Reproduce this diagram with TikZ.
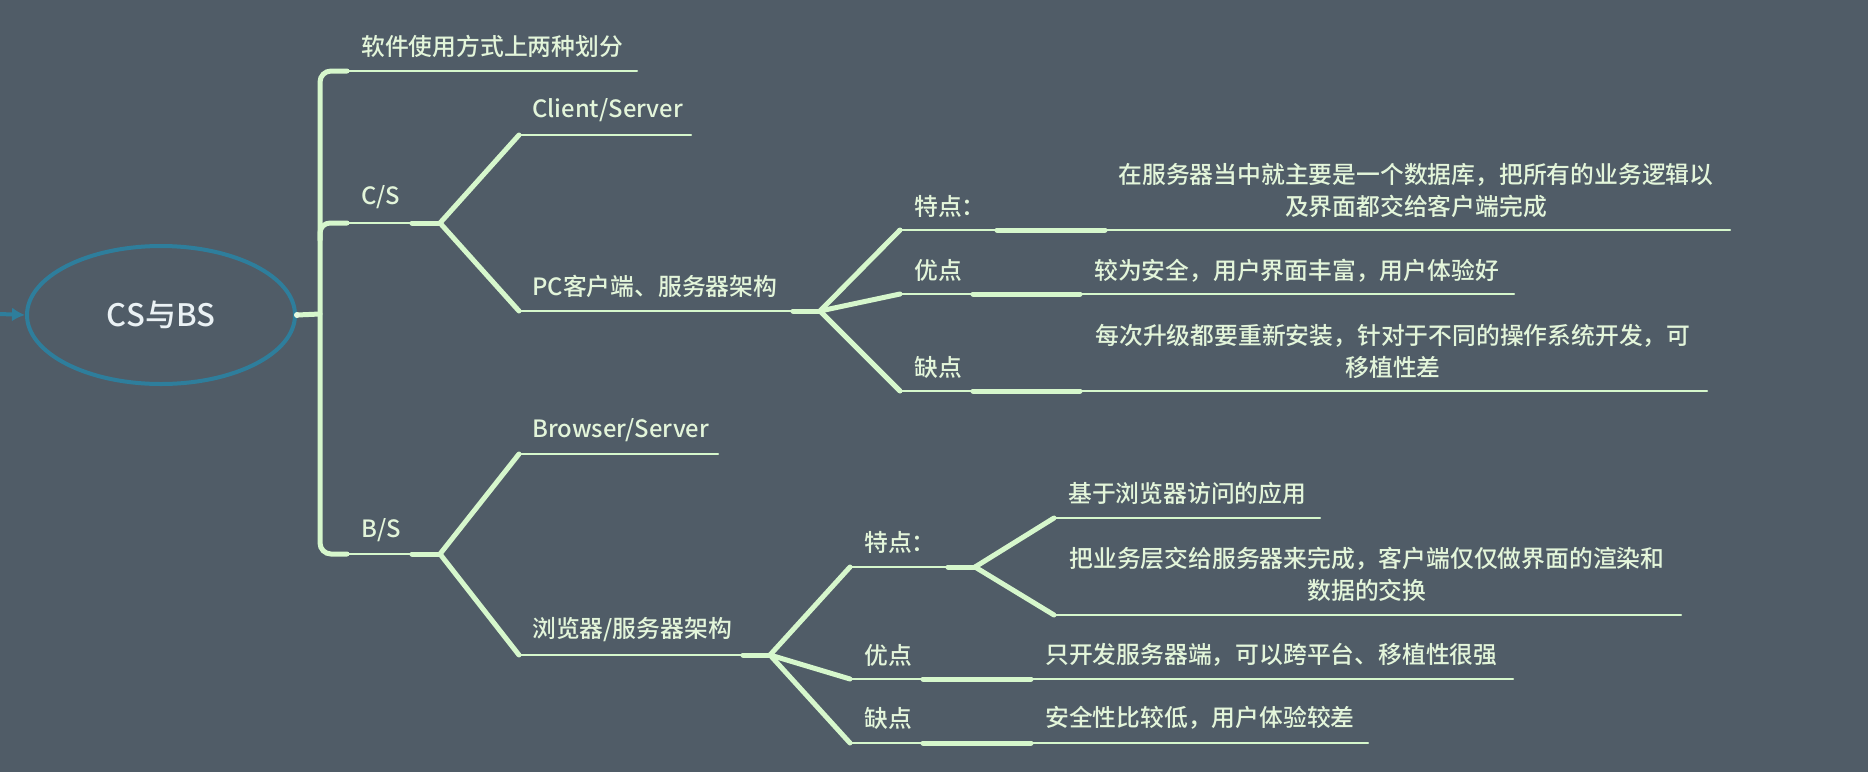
\documentclass[tikz,border=0pt]{standalone}
\usepackage{fontspec}
\setmainfont{Noto Sans CJK SC}[UprightFont={* Medium}]
\usetikzlibrary{arrows.meta,shapes.geometric}
\definecolor{bgc}{HTML}{505C67}
\definecolor{lnc}{HTML}{D6F7CC}
\definecolor{txc}{HTML}{E3F5DA}
\definecolor{rootc}{HTML}{2E7E9C}
\definecolor{roottx}{HTML}{EAF1F4}
\begin{document}
\begin{tikzpicture}[x=1pt,y=-1pt,
  uline/.style={draw=lnc, line width=2pt, line cap=round},
  conn/.style={draw=lnc, line width=5pt, line cap=round},
  lbl/.style={text=txc, font=\fontsize{23.8}{32}\selectfont, inner sep=0pt, anchor=west},
  ctr/.style={text=txc, font=\fontsize{23.8}{32}\selectfont, inner sep=0pt, align=center},
  rootnode/.style={draw=rootc, line width=4pt, ellipse, minimum width=268pt, minimum height=138pt, text=roottx, font=\fontsize{31}{36}\selectfont, inner sep=0pt}
]
\useasboundingbox (0,0) rectangle (1868,772);
\fill[bgc] (0,0) rectangle (1868,772);

% root
\node[rootnode] (root) at (161,315) {CS与BS};
\coordinate (ain) at (0,314);
\draw[rootc, line width=4pt, -{Latex[length=13pt,width=14pt]}] (ain) -- (root.west);
\coordinate (v0) at (320,314);
\draw[conn] (root.east) -- (v0);
\fill[lnc!60!white] (root.east) circle (3pt);

% spine
\coordinate (topa) at (347,71);
\coordinate (bota) at (347,554);
\draw[conn, rounded corners=11pt] (topa) -- (320,71) -- (320,554) -- (bota);

% top branch
\coordinate (tope) at (637,71);
\draw[uline] (topa) -- (tope);
\node[lbl] (ttop) at (361,46) {软件使用方式上两种划分};

% C/S
\coordinate (csa) at (347,223);
\coordinate (csb) at (412,223);
\coordinate (csf) at (440,223);
\draw[conn, rounded corners=10pt] (320,240) -- (320,223) -- (csa);
\draw[uline] (csa) -- (csb);
\draw[conn] (csb) -- (csf);
\node[lbl] (tcs) at (361,197) {C/S};

\coordinate (cla) at (519,135);
\coordinate (cle) at (691,135);
\draw[conn] (csf) -- (cla);
\draw[uline] (cla) -- (cle);
\node[lbl] (tcl) at (532,110) {Client/Server};

\coordinate (pca) at (519,311);
\coordinate (pcb) at (793,311);
\coordinate (pcf) at (820,311);
\draw[conn] (csf) -- (pca);
\draw[uline] (pca) -- (pcb);
\draw[conn] (pcb) -- (pcf);
\node[lbl] (tpc) at (532,286) {PC客户端、服务器架构};

% C/S features
\coordinate (c1a) at (900,230);
\coordinate (c1b) at (997,230);
\coordinate (c1c) at (1105,230);
\coordinate (c1e) at (1730,230);
\draw[conn] (pcf) -- (c1a);
\draw[uline] (c1a) -- (c1b);
\draw[conn] (c1b) -- (c1c);
\draw[uline] (c1c) -- (c1e);
\node[lbl] (tc1) at (914,206) {特点：};
\node[ctr] (tc1t) at (1416,191) {在服务器当中就主要是一个数据库，把所有的业务逻辑以\\及界面都交给客户端完成};

\coordinate (c2a) at (900,294);
\coordinate (c2b) at (973,294);
\coordinate (c2c) at (1080,294);
\coordinate (c2e) at (1514,294);
\draw[conn] (pcf) -- (c2a);
\draw[uline] (c2a) -- (c2b);
\draw[conn] (c2b) -- (c2c);
\draw[uline] (c2c) -- (c2e);
\node[lbl] (tc2) at (914,270) {优点};
\node[lbl] (tc2t) at (1094,271) {较为安全，用户界面丰富，用户体验好};

\coordinate (c3a) at (900,391);
\coordinate (c3b) at (973,391);
\coordinate (c3c) at (1080,391);
\coordinate (c3e) at (1707,391);
\draw[conn] (pcf) -- (c3a);
\draw[uline] (c3a) -- (c3b);
\draw[conn] (c3b) -- (c3c);
\draw[uline] (c3c) -- (c3e);
\node[lbl] (tc3) at (914,367) {缺点};
\node[ctr] (tc3t) at (1393,351) {每次升级都要重新安装，针对于不同的操作系统开发，可\\移植性差};

% B/S
\coordinate (bsb) at (412,554);
\coordinate (bsf) at (440,554);
\draw[uline] (bota) -- (bsb);
\draw[conn] (bsb) -- (bsf);
\node[lbl] (tbs) at (361,530) {B/S};

\coordinate (bra) at (519,454);
\coordinate (bre) at (718,454);
\draw[conn] (bsf) -- (bra);
\draw[uline] (bra) -- (bre);
\node[lbl] (tbr) at (532,430) {Browser/Server};

\coordinate (lla) at (519,655);
\coordinate (llb) at (743,655);
\coordinate (llf) at (770,655);
\draw[conn] (bsf) -- (lla);
\draw[uline] (lla) -- (llb);
\draw[conn] (llb) -- (llf);
\node[lbl] (tll) at (532,630) {浏览器/服务器架构};

% B/S features
\coordinate (b1a) at (850,567);
\coordinate (b1b) at (948,567);
\coordinate (b1f) at (975,567);
\draw[conn] (llf) -- (b1a);
\draw[uline] (b1a) -- (b1b);
\draw[conn] (b1b) -- (b1f);
\node[lbl] (tb1) at (864,542) {特点：};

\coordinate (b11a) at (1054,518);
\coordinate (b11e) at (1320,518);
\draw[conn] (b1f) -- (b11a);
\draw[uline] (b11a) -- (b11e);
\node[lbl] (tb11) at (1068,493) {基于浏览器访问的应用};

\coordinate (b12a) at (1054,615);
\coordinate (b12e) at (1681,615);
\draw[conn] (b1f) -- (b12a);
\draw[uline] (b12a) -- (b12e);
\node[ctr] (tb12) at (1367,574) {把业务层交给服务器来完成，客户端仅仅做界面的渲染和\\数据的交换};

\coordinate (b2a) at (850,679);
\coordinate (b2b) at (923,679);
\coordinate (b2c) at (1031,679);
\coordinate (b2e) at (1513,679);
\draw[conn] (llf) -- (b2a);
\draw[uline] (b2a) -- (b2b);
\draw[conn] (b2b) -- (b2c);
\draw[uline] (b2c) -- (b2e);
\node[lbl] (tb2) at (864,655) {优点};
\node[lbl] (tb2t) at (1045,655) {只开发服务器端，可以跨平台、移植性很强};

\coordinate (b3a) at (850,743);
\coordinate (b3b) at (923,743);
\coordinate (b3c) at (1031,743);
\coordinate (b3e) at (1368,743);
\draw[conn] (llf) -- (b3a);
\draw[uline] (b3a) -- (b3b);
\draw[conn] (b3b) -- (b3c);
\draw[uline] (b3c) -- (b3e);
\node[lbl] (tb3) at (864,718) {缺点};
\node[lbl] (tb3t) at (1045,718) {安全性比较低，用户体验较差};
\end{tikzpicture}
\end{document}
